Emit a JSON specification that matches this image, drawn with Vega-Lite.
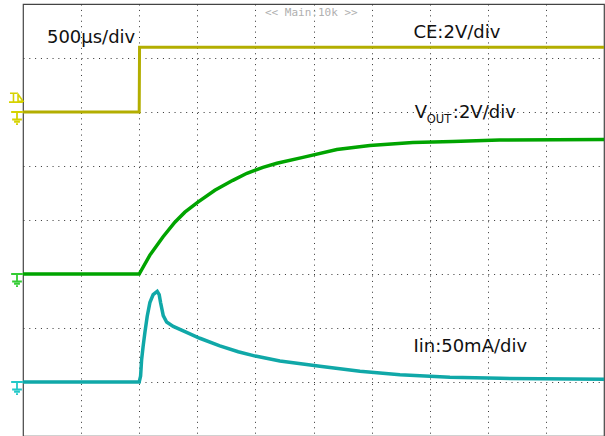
{
  "$schema": "https://vega.github.io/schema/vega-lite/v6.json",
  "width": 581,
  "height": 432,
  "autosize": "none",
  "padding": {"left": 23, "top": 4, "right": 1, "bottom": 0},
  "background": "white",
  "config": {"view": {"stroke": "#444", "strokeWidth": 1.2}},
  "datasets": {
    "ce": [{"t": -1, "v": 0}, {"t": 0, "v": 0}, {"t": 0.003, "v": 2.4}, {"t": 4, "v": 2.4}],
    "vout": [
      {"t": -1, "v": 0}, {"t": 0, "v": 0}, {"t": 0.092, "v": 0.70}, {"t": 0.204, "v": 1.37},
      {"t": 0.307, "v": 1.92}, {"t": 0.393, "v": 2.29}, {"t": 0.505, "v": 2.66}, {"t": 0.651, "v": 3.10},
      {"t": 0.806, "v": 3.47}, {"t": 0.927, "v": 3.73}, {"t": 1.065, "v": 3.95}, {"t": 1.185, "v": 4.10},
      {"t": 1.409, "v": 4.32}, {"t": 1.701, "v": 4.61}, {"t": 1.985, "v": 4.76}, {"t": 2.355, "v": 4.87},
      {"t": 2.70, "v": 4.91}, {"t": 3.10, "v": 4.96}, {"t": 4, "v": 4.98}
    ],
    "iin": [
      {"t": -1, "v": 0}, {"t": 0, "v": 0}, {"t": 0.012, "v": 5.5}, {"t": 0.021, "v": 20.9},
      {"t": 0.034, "v": 33.2}, {"t": 0.049, "v": 45.8}, {"t": 0.069, "v": 60.9}, {"t": 0.092, "v": 73.5},
      {"t": 0.120, "v": 80.9}, {"t": 0.155, "v": 83.9}, {"t": 0.172, "v": 80.9}, {"t": 0.184, "v": 73.5},
      {"t": 0.207, "v": 61.5}, {"t": 0.236, "v": 55.5}, {"t": 0.293, "v": 51.5}, {"t": 0.408, "v": 46.0},
      {"t": 0.522, "v": 40.5}, {"t": 0.694, "v": 33.5}, {"t": 0.852, "v": 28.0}, {"t": 1.0, "v": 24.0},
      {"t": 1.211, "v": 19.5}, {"t": 1.555, "v": 14.5}, {"t": 1.900, "v": 10.0}, {"t": 2.244, "v": 6.8},
      {"t": 2.674, "v": 4.5}, {"t": 3.105, "v": 3.4}, {"t": 4, "v": 2.5}
    ],
    "labels": [
      {"trace": "ce", "kind": "main", "t": -0.794, "v": 2.568, "label": "500µs/div"},
      {"trace": "ce", "kind": "main", "t": 2.36, "v": 2.753, "label": "CE:2V/div"},
      {"trace": "ce", "kind": "top", "t": 1.082, "v": 3.68, "label": "<< Main:10k >>"},
      {"trace": "vout", "kind": "main", "t": 2.372, "v": 5.764, "label": "V"},
      {"trace": "vout", "kind": "sub", "t": 2.475, "v": 5.58, "label": "OUT"},
      {"trace": "vout", "kind": "main", "t": 2.699, "v": 5.764, "label": ":2V/div"},
      {"trace": "iin", "kind": "main", "t": 2.36, "v": 28.2, "label": "Iin:50mA/div"}
    ],
    "markers": [
      {"trace": "ce", "kind": "gnd", "t": -1, "v": 0},
      {"trace": "ce", "kind": "trig", "t": -1, "v": 0.53},
      {"trace": "vout", "kind": "gnd", "t": -1, "v": 0},
      {"trace": "iin", "kind": "gnd", "t": -1, "v": 0}
    ]
  },
  "encoding": {
    "x": {
      "field": "t", "type": "quantitative",
      "scale": {"domain": [-1, 4], "nice": false, "zero": false},
      "axis": {"values": [-0.5, 0, 0.5, 1, 1.5, 2, 2.5, 3, 3.5], "grid": true, "labels": false, "ticks": false, "domain": false, "title": null, "gridDash": [1, 4.42], "gridColor": "#333", "gridWidth": 1}
    }
  },
  "layer": [
    {
      "encoding": {
        "y": {
          "field": "v", "type": "quantitative",
          "scale": {"domain": [-12, 4], "nice": false, "zero": false},
          "axis": {"values": [-10, -8, -6, -4, -2, 0, 2], "grid": true, "labels": false, "ticks": false, "domain": false, "title": null, "gridDash": [1, 4.81], "gridColor": "#333", "gridWidth": 1}
        }
      },
      "layer": [
        {"data": {"name": "ce"}, "mark": {"type": "line", "color": "#b3ae00", "strokeWidth": 3}},
        {"data": {"name": "labels"}, "transform": [{"filter": "datum.trace === 'ce' && datum.kind === 'main'"}],
          "mark": {"type": "text", "align": "left", "baseline": "alphabetic", "font": "DejaVu Sans", "fontSize": 18, "color": "#111"},
          "encoding": {"text": {"field": "label"}}},
        {"data": {"name": "labels"}, "transform": [{"filter": "datum.trace === 'ce' && datum.kind === 'top'"}],
          "mark": {"type": "text", "align": "left", "baseline": "middle", "font": "DejaVu Sans Mono", "fontSize": 11, "color": "#b0b0b0"},
          "encoding": {"text": {"field": "label"}}},
        {"data": {"name": "markers"}, "transform": [{"filter": "datum.trace === 'ce' && datum.kind === 'gnd'"}],
          "mark": {"type": "point", "shape": "M-0.9,-1H0.9M0,-1V0.15M-0.75,0.15H0.75M-0.45,0.5H0.45M-0.15,0.85H0.15", "size": 169, "filled": false, "strokeWidth": 1.8, "color": "#d6d200", "opacity": 1, "xOffset": -6, "yOffset": 6.5}},
        {"data": {"name": "markers"}, "transform": [{"filter": "datum.trace === 'ce' && datum.kind === 'trig'"}],
          "mark": {"type": "point", "shape": "M-0.86,-0.64H0.14M-0.36,-0.64V0.64M-1,0.64H1M0.29,-0.5L1,0.5H0.29Z", "size": 196, "filled": false, "strokeWidth": 1.6, "color": "#d6d200", "opacity": 1, "xOffset": -7}}
      ]
    },
    {
      "encoding": {
        "y": {"field": "v", "type": "quantitative", "scale": {"domain": [-6, 10], "nice": false, "zero": false}, "axis": null}
      },
      "layer": [
        {"data": {"name": "vout"}, "mark": {"type": "line", "color": "#00a400", "strokeWidth": 3.5}},
        {"data": {"name": "labels"}, "transform": [{"filter": "datum.trace === 'vout' && datum.kind === 'main'"}],
          "mark": {"type": "text", "align": "left", "baseline": "alphabetic", "font": "DejaVu Sans", "fontSize": 18, "color": "#111"},
          "encoding": {"text": {"field": "label"}}},
        {"data": {"name": "labels"}, "transform": [{"filter": "datum.trace === 'vout' && datum.kind === 'sub'"}],
          "mark": {"type": "text", "align": "left", "baseline": "alphabetic", "font": "DejaVu Sans", "fontSize": 11.5, "color": "#111"},
          "encoding": {"text": {"field": "label"}}},
        {"data": {"name": "markers"}, "transform": [{"filter": "datum.trace === 'vout'"}],
          "mark": {"type": "point", "shape": "M-0.9,-1H0.9M0,-1V0.15M-0.75,0.15H0.75M-0.45,0.5H0.45M-0.15,0.85H0.15", "size": 169, "filled": false, "strokeWidth": 1.8, "color": "#33cc33", "opacity": 1, "xOffset": -6, "yOffset": 6.5}}
      ]
    },
    {
      "encoding": {
        "y": {"field": "v", "type": "quantitative", "scale": {"domain": [-50, 350], "nice": false, "zero": false}, "axis": null}
      },
      "layer": [
        {"data": {"name": "iin"}, "mark": {"type": "line", "color": "#10a8a8", "strokeWidth": 3.5}},
        {"data": {"name": "labels"}, "transform": [{"filter": "datum.trace === 'iin'"}],
          "mark": {"type": "text", "align": "left", "baseline": "alphabetic", "font": "DejaVu Sans", "fontSize": 18, "color": "#111"},
          "encoding": {"text": {"field": "label"}}},
        {"data": {"name": "markers"}, "transform": [{"filter": "datum.trace === 'iin'"}],
          "mark": {"type": "point", "shape": "M-0.9,-1H0.9M0,-1V0.15M-0.75,0.15H0.75M-0.45,0.5H0.45M-0.15,0.85H0.15", "size": 169, "filled": false, "strokeWidth": 1.8, "color": "#22c8c8", "opacity": 1, "xOffset": -6, "yOffset": 6.5}}
      ]
    }
  ],
  "resolve": {"scale": {"y": "independent"}, "axis": {"y": "independent"}}
}
